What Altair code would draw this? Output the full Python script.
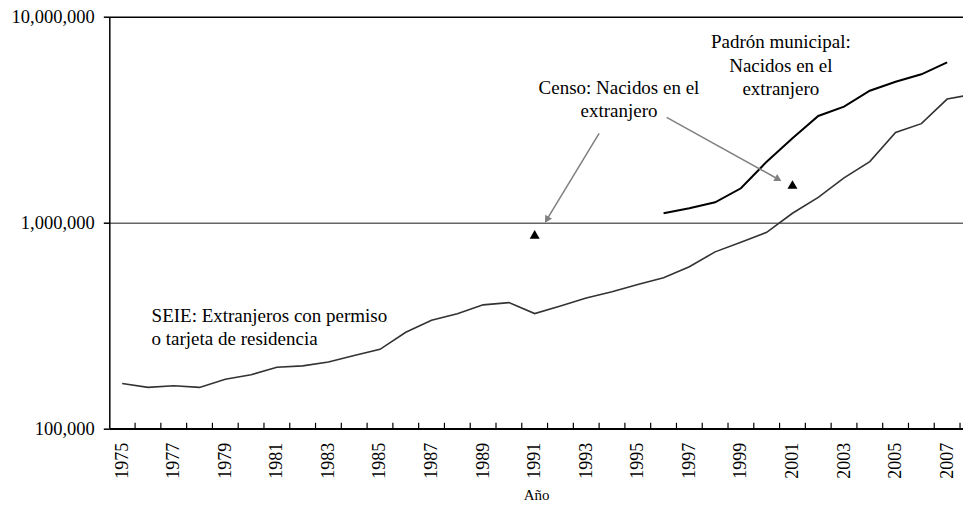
import altair as alt
import pandas as pd

# ---------------- data ----------------
years = list(range(1975, 2009))
seie = [165000, 158000, 161000, 158000, 173000, 182000, 198000, 201000, 210000,
        226000, 242000, 293000, 335000, 360000, 398000, 408000, 361000, 393000,
        430000, 461000, 500000, 539000, 610000, 720000, 801000, 896000, 1109000,
        1324000, 1647000, 1977000, 2739000, 3022000, 3979000, 4195000]

padron_years = list(range(1996, 2008))
padron = [1108000, 1172000, 1254000, 1466000, 1975000, 2566000, 3293000,
          3653000, 4369000, 4833000, 5249000, 6003000]

census_years = [1991, 2001]
census = [875000, 1530000]

x_label_years = list(range(1975, 2008, 2))
x_tick_bounds = [y + 0.5 for y in years[:-1]]
y_tick_values = [100000, 1000000, 10000000]

# annotations (data coordinates)
seie_text = ["SEIE: Extranjeros con permiso\no tarjeta de residencia"]
seie_text_x = [1976.14]
seie_text_y = [329600]
center_texts = ["Censo: Nacidos en el\nextranjero",
                "Padrón municipal:\nNacidos en el\nextranjero"]
center_texts_x = [1994.27, 2000.55]
center_texts_y = [4211000, 7007000]

arrow_x = [1993.50, 1996.12]
arrow_y = [2713000, 3245000]
arrow_head_x = [1991.47, 2000.45]
arrow_head_y = [1032000, 1622000]
arrow_angle = [211, 119]

# ---------------- chart ----------------
W, H = 853.7, 411.6
FONT = "Liberation Serif"

xscale = alt.Scale(domain=[1974.5, 2007.615], nice=False, zero=False)
yscale = alt.Scale(type="log", domain=[100000, 10000000], nice=False)

xaxis = alt.Axis(values=x_label_years, format="d", labelAngle=270,
                 labelFont=FONT, labelFontSize=18, labelColor="black",
                 ticks=False, tickSize=0, labelPadding=14,
                 domainColor="black", domainWidth=1.5, grid=False,
                 labelFlush=False, labelOverlap=False, labelBound=False,
                 title="Año", titleFont=FONT, titleFontSize=15,
                 titleFontWeight="normal", titleColor="black", titlePadding=9)

yaxis = alt.Axis(values=y_tick_values, format=",", labelFont=FONT,
                 labelFontSize=18.5, labelColor="black", tickSize=6,
                 tickColor="black", tickWidth=1.5, labelPadding=9,
                 domainColor="black", domainWidth=1.5, grid=True,
                 gridColor={"condition": {"test": "datum.value === 1000000", "value": "#666666"},
                            "value": "#000000"},
                 gridWidth=1.5, labelFlush=False, labelOverlap=False, title=None)


def X(field):
    return alt.X(field, scale=xscale, axis=xaxis)


def Y(field):
    return alt.Y(field, scale=yscale, axis=yaxis)


df_seie = pd.DataFrame({"year": years, "v": seie})
df_padron = pd.DataFrame({"year": padron_years, "v": padron})
df_census = pd.DataFrame({"year": census_years, "v": census})
df_ticks = pd.DataFrame({"t": x_tick_bounds})
df_seie_txt = pd.DataFrame({"x": seie_text_x, "y": seie_text_y, "txt": seie_text})
df_ctr_txt = pd.DataFrame({"x": center_texts_x, "y": center_texts_y, "txt": center_texts})
df_arrow = pd.DataFrame({"x": arrow_x, "y": arrow_y, "x2": arrow_head_x,
                         "y2": arrow_head_y, "ang": arrow_angle})

seie_line = alt.Chart(df_seie).mark_line(color="#333333", strokeWidth=1.6, clip=True).encode(
    x=X("year:Q"), y=Y("v:Q"),
)

padron_line = alt.Chart(df_padron).mark_line(color="#000000", strokeWidth=2, clip=True).encode(
    x=X("year:Q"), y=Y("v:Q"),
)

census_pts = alt.Chart(df_census).mark_point(shape="triangle-up", filled=True, size=100,
                                             color="#000000", opacity=1).encode(
    x=X("year:Q"), y=Y("v:Q"),
)

ticks = alt.Chart(df_ticks).mark_rule(color="black", strokeWidth=1.2).encode(
    x=X("t:Q"),
    y=alt.value(H),
    y2=alt.value(H - 5.5),
)

arrow_shaft = alt.Chart(df_arrow).mark_rule(color="#808080", strokeWidth=1.5).encode(
    x=X("x:Q"), y=Y("y:Q"),
    x2="x2:Q",
    y2="y2:Q",
)

arrow_head = alt.Chart(df_arrow).mark_point(shape="triangle-up", filled=True, size=64,
                                            color="#808080", opacity=1).encode(
    x=X("x2:Q"), y=Y("y2:Q"),
    angle=alt.Angle("ang:Q", scale=None),
)

seie_label = alt.Chart(df_seie_txt).mark_text(align="left", baseline="alphabetic", font=FONT,
                                              fontSize=19, color="black", lineBreak="\n",
                                              lineHeight=23).encode(
    x=X("x:Q"), y=Y("y:Q"), text="txt:N",
)

center_labels = alt.Chart(df_ctr_txt).mark_text(align="center", baseline="alphabetic", font=FONT,
                                                fontSize=19, color="black", lineBreak="\n",
                                                lineHeight=23.5).encode(
    x=X("x:Q"), y=Y("y:Q"), text="txt:N",
)

chart = alt.layer(
    seie_line, padron_line, census_pts, ticks, arrow_shaft, arrow_head,
    seie_label, center_labels,
).properties(
    width=W, height=H,
    autosize=alt.AutoSizeParams(type="none"),
    padding={"left": 101.3, "top": 8.7, "right": 0, "bottom": 82},
    background="white",
).configure_view(stroke=None)

chart.save("out.html", embed_options={"renderer": "svg", "actions": False})
